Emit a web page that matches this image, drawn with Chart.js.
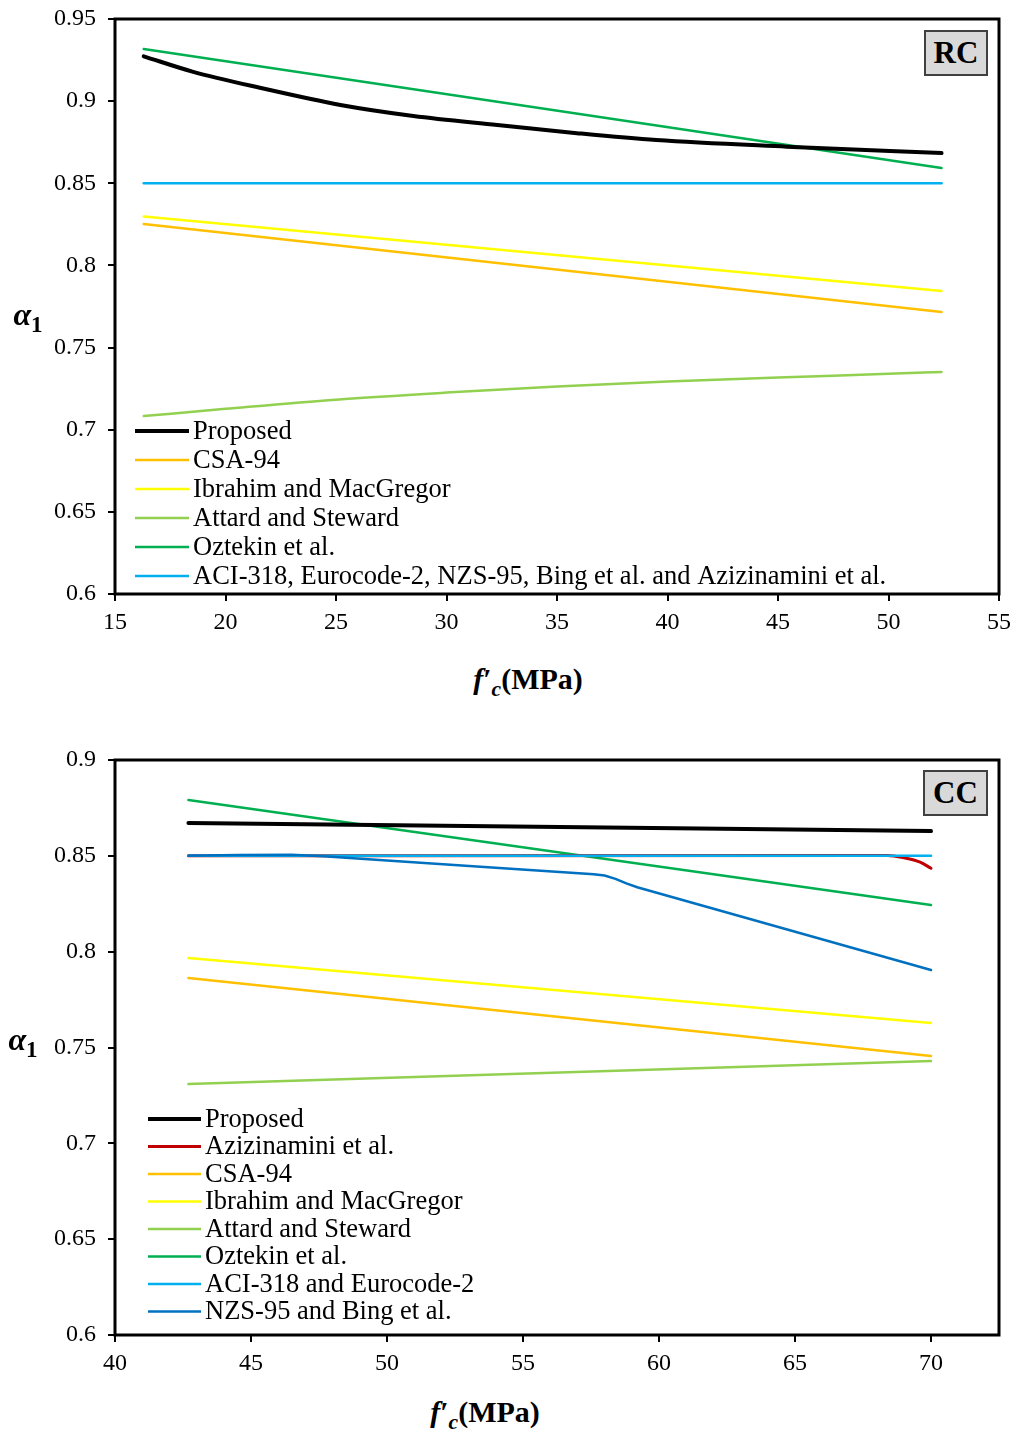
<!DOCTYPE html>
<html>
<head>
<meta charset="utf-8">
<script src="https://cdn.jsdelivr.net/npm/chart.js@4"></script>
<style>
  html, body { margin: 0; padding: 0; background: #fff; }
  body { width: 1013px; height: 1430px; position: relative; overflow: hidden; font-family: "Liberation Serif", "Times New Roman", serif; }
  canvas { position: absolute; left: 0; }
  .lbl { position: absolute; font-family: "Liberation Serif", serif; font-weight: bold; color: #000; white-space: nowrap; transform: translate(-50%, -50%); }
  .box { position: absolute; background: #d9d9d9; border: 2px solid #404040; box-sizing: border-box; font-family: "Liberation Serif", serif; font-weight: bold; font-size: 31px; display: flex; align-items: center; justify-content: center; }
  sub { font-size: 0.72em; vertical-align: -0.3em; }
</style>
</head>
<body>
<canvas id="rc" width="1013" height="650" style="top:0"></canvas>
<canvas id="cc" width="1013" height="650" style="top:740px"></canvas>

<div class="lbl" style="left:28px; top:317px; font-size:32px;"><i>α</i><sub>1</sub></div>
<div class="lbl" style="left:528px; top:682px; font-size:30px;"><i>f</i>′<sub><i>c</i></sub>(MPa)</div>
<div class="box" style="left:924px; top:30px; width:64px; height:46px;">RC</div>

<div class="lbl" style="left:23px; top:1042px; font-size:32px;"><i>α</i><sub>1</sub></div>
<div class="lbl" style="left:485px; top:1415px; font-size:30px;"><i>f</i>′<sub><i>c</i></sub>(MPa)</div>
<div class="box" style="left:923px; top:770px; width:65px; height:46px;">CC</div>

<script>
// ---------- RC data ----------
const rcProposedX = [16.3, 18.5, 21.6, 25.2, 28.5, 32.3, 35.9, 39.5, 45.4, 52.4];
const rcProposedY = [0.9273, 0.9180, 0.9080, 0.8977, 0.8910, 0.8855, 0.8805, 0.8763, 0.8723, 0.8684];
const rcEndsX = [16.3, 52.4];
const rcCsaY = [0.8252, 0.7716];
const rcIbrahimY = [0.8298, 0.7844];
const rcOztekinY = [0.9317, 0.8593];
const rcAciY = [0.85, 0.85];
const rcAttardX = [16.3, 20, 25, 30, 35, 40, 45, 50, 52.4];
const rcAttardY = [0.7083, 0.7127, 0.7183, 0.7226, 0.7263, 0.7293, 0.7318, 0.7340, 0.7352];
const rcYTicks = ['0.6', '0.65', '0.7', '0.75', '0.8', '0.85', '0.9', '0.95'];

// ---------- CC data ----------
const ccEndsX = [42.7, 70];
const ccProposedY = [0.8671, 0.8629];
const ccAzizX = [42.7, 68.4, 69.0, 69.6, 70];
const ccAzizY = [0.8500, 0.8502, 0.8490, 0.8467, 0.8435];
const ccCsaY = [0.7862, 0.7456];
const ccIbrahimY = [0.7967, 0.7628];
const ccAttardY = [0.7310, 0.7430];
const ccOztekinY = [0.8791, 0.8243];
const ccAciY = [0.85, 0.85];
const ccNzsX = [42.7, 44.5, 46.5, 47.8, 53.3, 57.6, 58.0, 58.4, 58.8, 59.2, 70];
const ccNzsY = [0.8501, 0.8504, 0.8506, 0.8497, 0.8444, 0.8404, 0.8397, 0.8380, 0.8356, 0.8336, 0.7904];
const ccYTicks = ['0.6', '0.65', '0.7', '0.75', '0.8', '0.85', '0.9'];

const COL = {
  black: '#000000', red: '#C00000', orange: '#FFC000', yellow: '#FFFF00',
  lgreen: '#92D050', green: '#00B050', cyan: '#00B0F0', blue: '#0070C0'
};

function pts(xs, ys) { return xs.map((x, i) => ({ x: x, y: ys[i] })); }
function ds(label, xs, ys, color, width, order, curved) {
  return {
    label: label, data: pts(xs, ys), borderColor: color, backgroundColor: color,
    borderWidth: width, pointRadius: 0, order: order, fill: false,
    cubicInterpolationMode: curved ? 'monotone' : 'default', tension: 0,
    borderCapStyle: 'round'
  };
}

const frameAndLegend = {
  id: 'frameAndLegend',
  afterDatasetsDraw(chart) {
    const o = chart.options.plugins.frameAndLegend;
    const ctx = chart.ctx;
    const a = chart.chartArea;
    ctx.save();
    ctx.font = o.fontSize + 'px "Liberation Serif", serif';
    ctx.textBaseline = 'middle';
    ctx.textAlign = 'left';
    chart.data.datasets.forEach((d, i) => {
      const y = o.y0 + i * o.dy;
      ctx.strokeStyle = d.borderColor;
      ctx.lineWidth = d.borderWidth;
      ctx.lineCap = 'butt';
      ctx.beginPath();
      ctx.moveTo(o.lx0, y);
      ctx.lineTo(o.lx1, y);
      ctx.stroke();
      ctx.fillStyle = '#000';
      ctx.fillText(d.label, o.tx, y + 1);
    });
    ctx.strokeStyle = '#000';
    ctx.lineWidth = 3;
    ctx.strokeRect(a.left, a.top, a.right - a.left, a.bottom - a.top);
    ctx.restore();
  }
};

function noPad(s) { s.paddingLeft = 0; s.paddingRight = 0; s.paddingTop = 0; s.paddingBottom = 0; }

function makeChart(id, datasets, xmin, xmax, ymin, ymax, yLabels, top, right, bottom, legend) {
  const H = 650, W = 1013;
  return new Chart(document.getElementById(id), {
    type: 'line',
    data: { datasets: datasets },
    options: {
      responsive: false, animation: false, devicePixelRatio: 1,
      layout: { padding: { top: top, right: W - right, left: 0, bottom: 0 } },
      plugins: { legend: { display: false }, tooltip: { enabled: false }, frameAndLegend: legend },
      scales: {
        x: {
          type: 'linear', min: xmin, max: xmax,
          afterFit: s => { s.height = H - bottom; noPad(s); },
          border: { display: false },
          grid: { drawOnChartArea: false, drawTicks: true, tickLength: 7, tickColor: '#000', lineWidth: 2 },
          ticks: { stepSize: 5, includeBounds: false, padding: 7, color: '#000', maxRotation: 0,
                   font: { family: '"Liberation Serif", serif', size: 24 } }
        },
        y: {
          type: 'linear', min: ymin, max: ymax,
          afterFit: s => { s.width = 115; noPad(s); },
          border: { display: false },
          grid: { drawOnChartArea: false, drawTicks: true, tickLength: 7, tickColor: '#000', lineWidth: 2 },
          ticks: { stepSize: 0.05, padding: 12, color: '#000',
                   font: { family: '"Liberation Serif", serif', size: 24 },
                   callback: (v, i) => yLabels[i] }
        }
      }
    },
    plugins: [frameAndLegend]
  });
}

makeChart('rc', [
  ds('Proposed', rcProposedX, rcProposedY, COL.black, 4, 0, true),
  ds('CSA-94', rcEndsX, rcCsaY, COL.orange, 2.5, 5, false),
  ds('Ibrahim and MacGregor', rcEndsX, rcIbrahimY, COL.yellow, 2.5, 4, false),
  ds('Attard and Steward', rcAttardX, rcAttardY, COL.lgreen, 2.5, 3, true),
  ds('Oztekin et al.', rcEndsX, rcOztekinY, COL.green, 2.5, 1, false),
  ds('ACI-318, Eurocode-2, NZS-95, Bing et al. and Azizinamini et al.', rcEndsX, rcAciY, COL.cyan, 2.5, 2, false)
], 15, 55, 0.6, 0.95, rcYTicks, 19, 999, 594,
  { y0: 431, dy: 29, lx0: 135, lx1: 189, tx: 193, fontSize: 26.5 });

makeChart('cc', [
  ds('Proposed', ccEndsX, ccProposedY, COL.black, 4, 0, false),
  ds('Azizinamini et al.', ccAzizX, ccAzizY, COL.red, 3, 3, true),
  ds('CSA-94', ccEndsX, ccCsaY, COL.orange, 2.5, 6, false),
  ds('Ibrahim and MacGregor', ccEndsX, ccIbrahimY, COL.yellow, 2.5, 5, false),
  ds('Attard and Steward', ccEndsX, ccAttardY, COL.lgreen, 2.5, 7, false),
  ds('Oztekin et al.', ccEndsX, ccOztekinY, COL.green, 2.5, 4, false),
  ds('ACI-318 and Eurocode-2', ccEndsX, ccAciY, COL.cyan, 2.5, 2, false),
  ds('NZS-95 and Bing et al.', ccNzsX, ccNzsY, COL.blue, 2.5, 1, false)
], 40, 72.5, 0.6, 0.9, ccYTicks, 20, 999, 595,
  { y0: 379, dy: 27.5, lx0: 148, lx1: 201, tx: 205, fontSize: 26.5 });
</script>
</body>
</html>
